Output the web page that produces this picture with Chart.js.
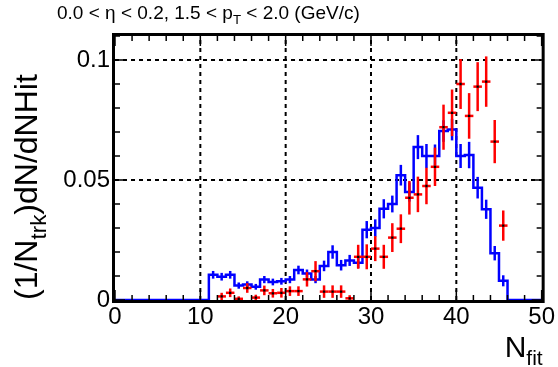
<!DOCTYPE html>
<html>
<head>
<meta charset="utf-8">
<script src="https://cdn.jsdelivr.net/npm/chart.js@4.4.0/dist/chart.umd.min.js"></script>
<style>
  html, body { margin: 0; padding: 0; background: #fff; }
</style>
</head>
<body>
<canvas id="myChart" width="558" height="367"></canvas>
<script>
// blue histogram: one value per bin of width 1, bins start at 0
const blueValues = [
  0, 0, 0, 0, 0, 0, 0, 0, 0, 0,
  0, 0.0105, 0.0097, 0.0105, 0.006, 0.0065, 0.0055, 0.0085, 0.0075, 0.0078,
  0.0085, 0.0125, 0.011, 0.0085, 0.0142, 0.020, 0.0145, 0.0165, 0.0155, 0.0293,
  0.030, 0.038, 0.040, 0.052, 0.045, 0.0637, 0.060, 0.060, 0.0704, 0.071,
  0.060, 0.0604, 0.0468, 0.0378, 0.0195, 0.008, 0, 0, 0, 0
];
const blueErrors = [
  0, 0, 0, 0, 0, 0, 0, 0, 0, 0,
  0, 0.0016, 0.0016, 0.0016, 0.0013, 0.0013, 0.0012, 0.0015, 0.0014, 0.0014,
  0.0015, 0.0018, 0.0017, 0.0015, 0.0022, 0.0028, 0.0022, 0.0023, 0.0022, 0.0036,
  0.0036, 0.004, 0.0035, 0.0043, 0.004, 0.005, 0.005, 0.0048, 0.0045, 0.0045,
  0.005, 0.0055, 0.0045, 0.004, 0.003, 0.0023, 0, 0, 0, 0
];

// red points (bin centres)
const redX = [
  12.5, 13.5, 14.5, 15.5, 16.5, 17.5, 18.5, 19.5, 20.5, 21.5,
  22.5, 23.5, 24.5, 25.5, 26.5, 27.5, 28.5, 29.5, 30.5, 31.5,
  32.5, 33.5, 34.5, 35.5, 36.5, 37.5, 38.5, 39.5, 40.5, 41.5,
  42.5, 43.5, 44.5, 45.5
];
const redValues = [
  0.0015, 0.003, 0.0005, 0.005, 0.001, 0.004, 0.0028, 0.003, 0.0037, 0.0037,
  0.0086, 0.012, 0.0035, 0.0035, 0.0035, 0.0007, 0.018, 0.018, 0.0214, 0.018,
  0.026, 0.0297, 0.0426, 0.044, 0.0475, 0.0555, 0.072, 0.078, 0.090, 0.0767,
  0.0889, 0.091, 0.066, 0.031
];
const redErrors = [
  0.0015, 0.0018, 0.001, 0.002, 0.0012, 0.002, 0.0018, 0.002, 0.002, 0.002,
  0.003, 0.0042, 0.0026, 0.0026, 0.0026, 0.0013, 0.005, 0.0052, 0.0052, 0.005,
  0.006, 0.006, 0.007, 0.0074, 0.0076, 0.008, 0.0094, 0.0097, 0.0104, 0.0095,
  0.0102, 0.0105, 0.009, 0.0063
];

const xTickValues = [0, 10, 20, 30, 40, 50];
const yTickValues = [0, 0.05, 0.1];
const xMinorStep = 2;
const yMinorStep = 0.01;

const FONT = '"Liberation Sans", Arial, Helvetica, sans-serif';

// histogram drawn as steps through the bin edges
const blueSteps = blueValues.map((v, i) => ({x: i, y: v}));
blueSteps.push({x: blueValues.length, y: blueValues[blueValues.length - 1]});

const redPoints = redX.map((x, i) => ({x: x, y: redValues[i]}));

// text with subscripts, parts = [[text, isSub], ...]
function textWidth(ctx, parts, size) {
  let w = 0;
  parts.forEach(p => {
    ctx.font = (p[1] ? size * 0.7 : size) + 'px ' + FONT;
    w += ctx.measureText(p[0]).width;
  });
  return w;
}
function drawParts(ctx, parts, x, y, size) {
  parts.forEach(p => {
    const s = p[1] ? size * 0.7 : size;
    ctx.font = s + 'px ' + FONT;
    ctx.fillText(p[0], x, p[1] ? y + size * 0.28 : y);
    x += ctx.measureText(p[0]).width;
  });
}

function line(ctx, x1, y1, x2, y2) {
  ctx.beginPath();
  ctx.moveTo(x1, y1);
  ctx.lineTo(x2, y2);
  ctx.stroke();
}

const rootStyle = {
  id: 'rootStyle',
  beforeDatasetsDraw(chart) {
    const {ctx, chartArea: a, scales: {x, y}} = chart;
    ctx.save();
    ctx.strokeStyle = '#000';
    ctx.lineWidth = 2;
    ctx.setLineDash([4, 4]);
    xTickValues.slice(1, -1).forEach(v => {
      const px = x.getPixelForValue(v);
      line(ctx, px, a.bottom, px, a.top);
    });
    yTickValues.slice(1).forEach(v => {
      const py = y.getPixelForValue(v);
      line(ctx, a.left, py, a.right, py);
    });
    ctx.restore();
  },
  afterDatasetDraw(chart, args) {
    if (args.index !== 0) return;
    const {ctx, scales: {x, y}} = chart;
    ctx.save();
    ctx.strokeStyle = '#0000ff';
    ctx.lineWidth = 2.5;
    blueValues.forEach((v, i) => {
      if (!blueErrors[i]) return;
      const px = x.getPixelForValue(i + 0.5);
      line(ctx, px, y.getPixelForValue(v - blueErrors[i]), px, y.getPixelForValue(v + blueErrors[i]));
    });
    ctx.restore();
  },
  beforeDatasetDraw(chart, args) {
    if (args.index !== 1) return;
    const {ctx, chartArea: a, scales: {x, y}} = chart;
    ctx.save();
    ctx.strokeStyle = '#ff0000';
    ctx.lineWidth = 2.5;
    redX.forEach((xv, i) => {
      const px = x.getPixelForValue(xv);
      const py = y.getPixelForValue(redValues[i]);
      line(ctx, x.getPixelForValue(xv - 0.5), py, x.getPixelForValue(xv + 0.5), py);
      const lo = Math.min(y.getPixelForValue(redValues[i] - redErrors[i]), a.bottom);
      line(ctx, px, lo, px, y.getPixelForValue(redValues[i] + redErrors[i]));
    });
    ctx.restore();
  },
  afterDatasetsDraw(chart) {
    const {ctx, chartArea: a, scales: {x, y}} = chart;
    ctx.save();
    ctx.strokeStyle = '#000';
    ctx.lineWidth = 3;
    ctx.strokeRect(a.left - 1.5, a.top - 1.5, a.right - a.left + 3, a.bottom - a.top + 3);
    ctx.lineWidth = 1.5;
    for (let v = x.min; v <= x.max + 1e-9; v += xMinorStep) {
      const len = xTickValues.includes(Math.round(v)) ? 10 : 5;
      const px = x.getPixelForValue(v);
      line(ctx, px, a.bottom, px, a.bottom - len);
      line(ctx, px, a.top, px, a.top + len);
    }
    for (let k = 0; k * yMinorStep <= y.max + 1e-9; k++) {
      const v = k * yMinorStep;
      const len = (k % 5 === 0) ? 10 : 5;
      const py = y.getPixelForValue(v);
      line(ctx, a.left, py, a.left + len, py);
      line(ctx, a.right, py, a.right - len, py);
    }
    ctx.restore();
  },
  afterDraw(chart) {
    const {ctx, chartArea: a} = chart;
    ctx.save();
    ctx.fillStyle = '#000';
    ctx.textBaseline = 'alphabetic';
    ctx.textAlign = 'left';
    // title
    drawParts(ctx, [['0.0 < \u03b7 < 0.2, 1.5 < p', false], ['T', true], [' < 2.0 (GeV/c)', false]], 57, 19, 19);
    // x title
    const xt = [['N', false], ['fit', true]];
    drawParts(ctx, xt, a.right + 1 - textWidth(ctx, xt, 30), 357, 30);
    // y title, rotated
    const yt = [['(1/N', false], ['trk', true], [')dN/dNHit', false]];
    ctx.translate(37, a.bottom);
    ctx.rotate(-Math.PI / 2);
    drawParts(ctx, yt, 0, 0, 32);
    ctx.restore();
  }
};

new Chart(document.getElementById('myChart'), {
  data: {
    datasets: [{
      type: 'line',
      data: blueSteps,
      stepped: true,
      borderColor: '#0000ff',
      borderWidth: 2.5,
      pointRadius: 0,
      fill: false,
      clip: 6,
      order: 2
    }, {
      type: 'scatter',
      data: redPoints,
      pointStyle: 'rect',
      pointRadius: 1.6,
      backgroundColor: '#000',
      borderWidth: 0,
      clip: 6,
      order: 1
    }]
  },
  options: {
    responsive: false,
    animation: false,
    devicePixelRatio: 1,
    layout: { padding: { top: 36, right: 14, left: 0, bottom: 0 } },
    plugins: { legend: { display: false }, tooltip: { enabled: false } },
    scales: {
      x: {
        type: 'linear',
        min: 0,
        max: 50,
        afterBuildTicks(s) { s.ticks = xTickValues.map(v => ({value: v})); },
        afterFit(s) { s.height = 67; },
        ticks: { color: '#000', font: { family: FONT, size: 24 }, padding: 3, maxRotation: 0 },
        grid: { display: false, drawTicks: false },
        border: { display: false }
      },
      y: {
        type: 'linear',
        min: 0,
        max: 0.11,
        afterBuildTicks(s) { s.ticks = yTickValues.map(v => ({value: v})); },
        afterFit(s) { s.width = 115; },
        ticks: {
          color: '#000', font: { family: FONT, size: 24 }, padding: 5,
          callback: v => String(v)
        },
        grid: { display: false, drawTicks: false },
        border: { display: false }
      }
    }
  },
  plugins: [rootStyle]
});
</script>
</body>
</html>
